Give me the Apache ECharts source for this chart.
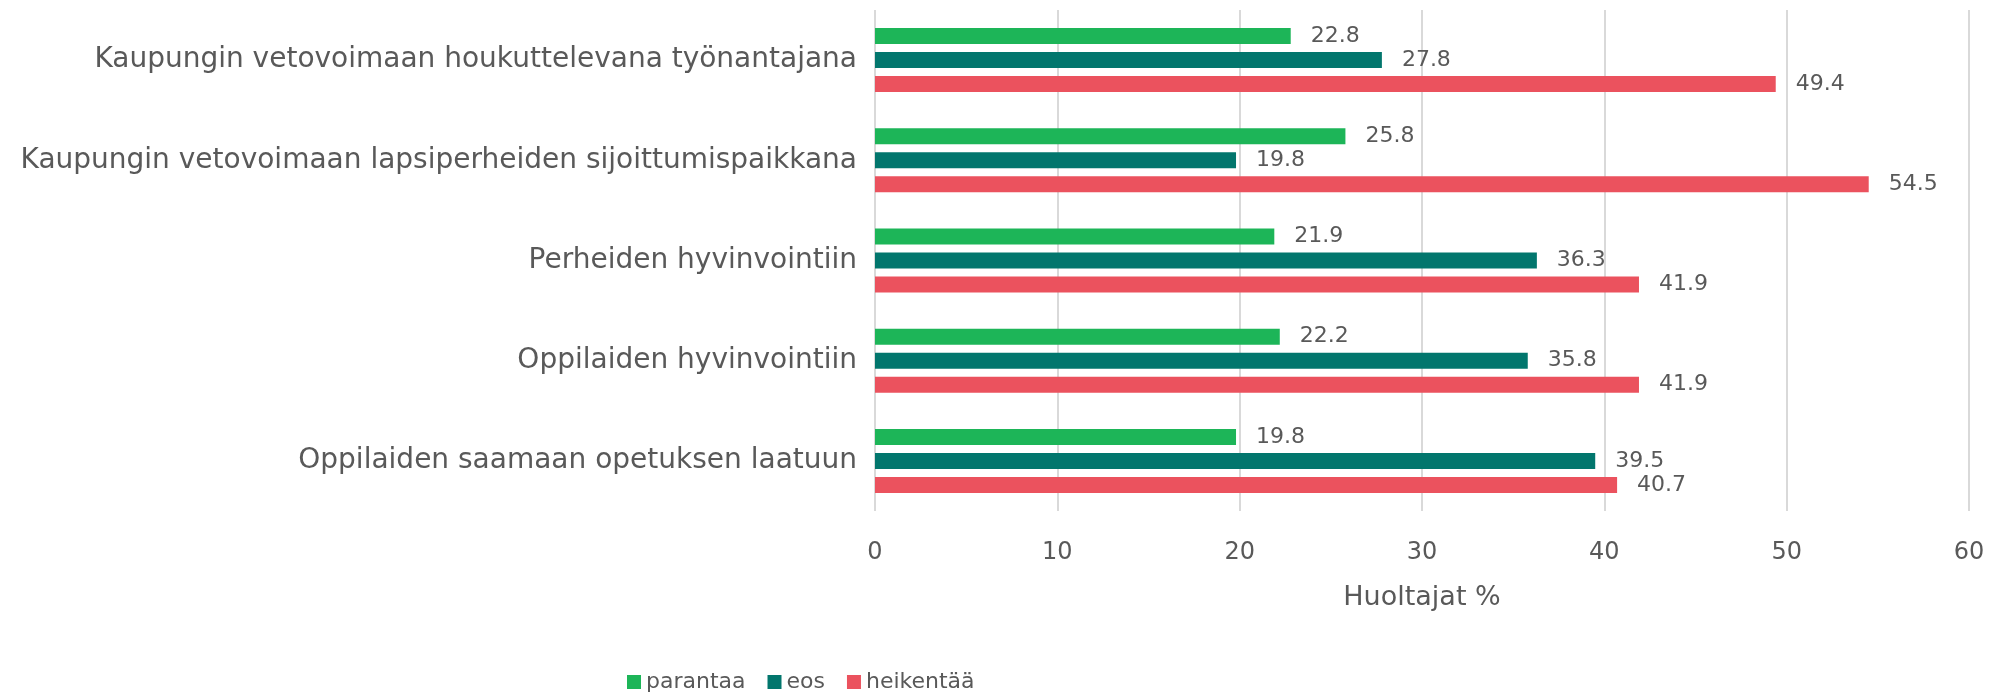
<!DOCTYPE html>
<html><head><meta charset="utf-8">
<script src="https://cdn.jsdelivr.net/npm/echarts@6/dist/echarts.min.js"></script>
<style>html,body{margin:0;padding:0;background:#fff}#c{width:2009px;height:696px}</style>
</head><body><div id="c"></div>
<script>
const categories = [
  "Kaupungin vetovoimaan houkuttelevana työnantajana",
  "Kaupungin vetovoimaan lapsiperheiden sijoittumispaikkana",
  "Perheiden hyvinvointiin",
  "Oppilaiden hyvinvointiin",
  "Oppilaiden saamaan opetuksen laatuun"
];
const parantaa = [22.8, 25.8, 21.9, 22.2, 19.8];
const eos = [27.8, 19.8, 36.3, 35.8, 39.5];
const heikentaa = [49.4, 54.5, 41.9, 41.9, 40.7];
const seriesNames = ["parantaa", "eos", "heikentää"];
const xTicks = [0, 10, 20, 30, 40, 50, 60];
const axisTitle = "Huoltajat %";

const FONT = "DejaVu Sans";
const TXT = "#595959";
const colors = ["#1DB558", "#02766D", "#EB525E"];
const chart = echarts.init(document.getElementById('c'));
const mk = (name, data, i) => ({
  name, type: 'bar', data,
  barWidth: 16, barGap: '50%', barCategoryGap: '35%',
  itemStyle: {color: colors[i]},
  label: {show: true, position: 'right', distance: 20, color: TXT, fontFamily: FONT, fontSize: 22,
    formatter: p => p.value.toFixed(1)}
});
chart.setOption({
  animation: false,
  textStyle: {fontFamily: FONT},
  grid: {left: 875, right: 40, top: 10, bottom: 185, containLabel: false},
  legend: {
    data: seriesNames, left: 622, top: 666, itemWidth: 14, itemHeight: 14, itemGap: 22,
    icon: 'rect', textStyle: {color: TXT, fontSize: 22, fontFamily: FONT}
  },
  xAxis: {
    type: 'value', min: xTicks[0], max: xTicks[xTicks.length - 1], interval: 10,
    name: axisTitle, nameLocation: 'middle', nameGap: 73,
    nameTextStyle: {color: TXT, fontSize: 27, fontFamily: FONT},
    axisLine: {show: false}, axisTick: {show: false},
    axisLabel: {color: TXT, fontSize: 24, margin: 30, fontFamily: FONT},
    splitLine: {lineStyle: {color: '#D9D9D9', width: 2}}
  },
  yAxis: {
    type: 'category', data: categories, inverse: true,
    axisLine: {show: false}, axisTick: {show: false},
    axisLabel: {color: TXT, fontSize: 28, margin: 18, fontFamily: FONT}
  },
  series: [mk(seriesNames[0], parantaa, 0), mk(seriesNames[1], eos, 1), mk(seriesNames[2], heikentaa, 2)]
});
</script></body></html>
